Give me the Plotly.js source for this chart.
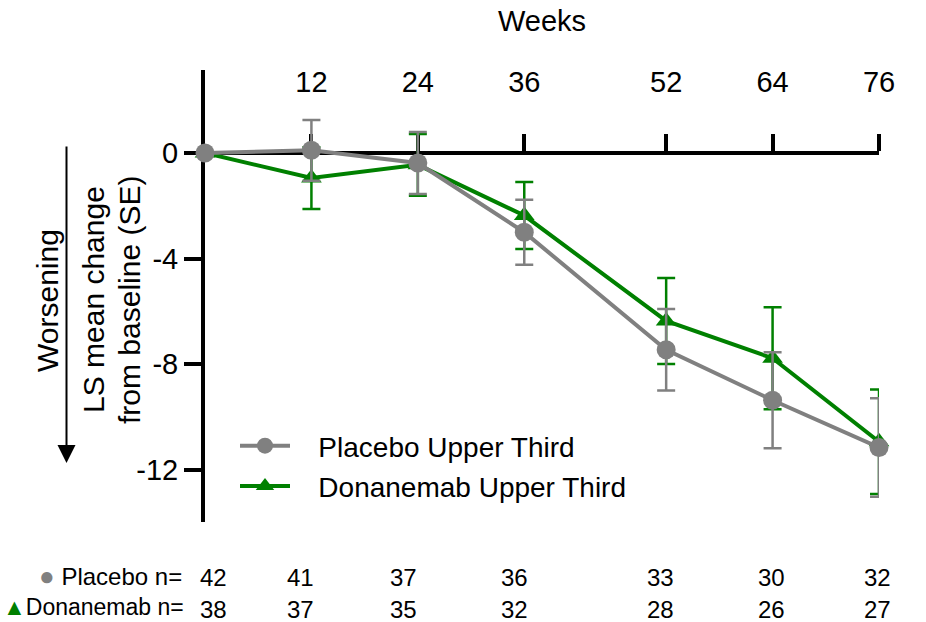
<!DOCTYPE html>
<html>
<head>
<meta charset="utf-8">
<script src="https://cdn.plot.ly/plotly-3.0.1.min.js"></script>
<style>html,body{margin:0;padding:0;background:#fff;}#chart{width:926px;height:622px;}</style>
</head>
<body>
<div id="chart"></div>
<script>
// ---- data ----
var weeks = [0, 12, 24, 36, 52, 64, 76];
var tickWeeks = [12, 24, 36, 52, 64, 76];
var placeboMean = [0, 0.1, -0.38, -3.0, -7.45, -9.36, -11.15];
var placeboSE = [0, 1.15, 1.17, 1.23, 1.54, 1.82, 1.86];
var donanemabMean = [0, -0.95, -0.45, -2.37, -6.36, -7.77, -10.93];
var donanemabSE = [0, 1.17, 1.17, 1.27, 1.63, 1.93, 1.98];
var placeboN = [42, 41, 37, 36, 33, 30, 32];
var donanemabN = [38, 37, 35, 32, 28, 26, 27];
var yTickVals = [0, -4, -8, -12];
var yTickText = ['0', '-4', '-8', '-12'];

// ---- style ----
var FONT = 'Liberation Sans, Arial, sans-serif';
var GREY = '#808080';
var GREEN = '#008000';
var yRange = [-13.97, 3.14];
var xAxisPos = (0 - yRange[0]) / (yRange[1] - yRange[0]);
var nShift = [8, -11, -14, -10, -6, -1, -2];
var PAD = '\u00a0\u00a0\u00a0';

var traces = [
  {
    x: weeks, y: donanemabMean, name: PAD + 'Donanemab Upper Third', type: 'scatter', mode: 'lines+markers',
    line: {color: GREEN, width: 4},
    marker: {symbol: 'triangle-up', size: 18, color: GREEN},
    error_y: {type: 'data', array: donanemabSE, visible: true, color: GREEN, thickness: 2.5, width: 9},
    cliponaxis: false, legendrank: 2, legendgroup: 'd'
  },
  {
    x: weeks, y: placeboMean, name: PAD + 'Placebo Upper Third', type: 'scatter', mode: 'lines+markers',
    line: {color: GREY, width: 4},
    marker: {symbol: 'circle', size: 19, color: GREY},
    error_y: {type: 'data', array: placeboSE, visible: true, color: GREY, thickness: 2.5, width: 9},
    cliponaxis: false, legendrank: 1, legendgroup: 'p'
  }
];

var annotations = [];
// y-axis titles
annotations.push({xref: 'paper', yref: 'paper', x: (93 - 205) / 674, y: (522 - 300) / 452,
  text: 'LS mean change', textangle: -90, showarrow: false, xanchor: 'center', yanchor: 'middle',
  font: {family: FONT, size: 30, color: '#000'}});
annotations.push({xref: 'paper', yref: 'paper', x: (129 - 205) / 674, y: (522 - 300) / 452,
  text: 'from baseline (SE)', textangle: -90, showarrow: false, xanchor: 'center', yanchor: 'middle',
  font: {family: FONT, size: 30, color: '#000'}});
annotations.push({xref: 'paper', yref: 'paper', x: (47 - 205) / 674, y: (522 - 301) / 452,
  text: 'Worsening', textangle: -90, showarrow: false, xanchor: 'center', yanchor: 'middle',
  font: {family: FONT, size: 30, color: '#000'}});
// worsening arrow
annotations.push({xref: 'paper', yref: 'paper', x: (66.5 - 205) / 674, y: (522 - 463) / 452,
  ax: 0, ay: -318, text: '', showarrow: true, arrowhead: 2, arrowsize: 1.8, arrowwidth: 2,
  arrowcolor: '#000', standoff: 0});
// n table labels
annotations.push({xref: 'paper', yref: 'paper', x: (184 - 205) / 674, y: (522 - 576) / 452,
  xanchor: 'right', yanchor: 'middle', showarrow: false,
  text: '<span style="color:' + GREY + ';font-size:26px">●</span> Placebo n=',
  font: {family: FONT, size: 24, color: '#000'}});
annotations.push({xref: 'paper', yref: 'paper', x: (185 - 205) / 674, y: (522 - 607) / 452,
  xanchor: 'right', yanchor: 'middle', showarrow: false, borderpad: 0,
  text: '<span style="color:' + GREEN + ';font-size:23px">▲</span>Donanemab n=',
  font: {family: FONT, size: 23, color: '#000'}});
for (var i = 0; i < weeks.length; i++) {
  annotations.push({xref: 'x', yref: 'paper', x: weeks[i], y: (522 - 577) / 452, xshift: nShift[i],
    xanchor: 'center', yanchor: 'middle', showarrow: false, text: String(placeboN[i]),
    font: {family: FONT, size: 24, color: '#000'}});
  annotations.push({xref: 'x', yref: 'paper', x: weeks[i], y: (522 - 609) / 452, xshift: nShift[i],
    xanchor: 'center', yanchor: 'middle', showarrow: false, text: String(donanemabN[i]),
    font: {family: FONT, size: 24, color: '#000'}});
}

var layout = {
  width: 926, height: 622,
  margin: {l: 205, r: 47, t: 70, b: 100, pad: 0},
  paper_bgcolor: '#fff', plot_bgcolor: '#fff',
  font: {family: FONT, size: 29, color: '#000'},
  showlegend: true,
  legend: {x: (235 - 205) / 674, y: (522 - 421) / 452, xanchor: 'left', yanchor: 'top',
    font: {family: FONT, size: 28, color: '#000'}, bgcolor: 'rgba(0,0,0,0)',
    traceorder: 'grouped', tracegroupgap: 1, itemwidth: 50},
  xaxis: {
    range: [0, 76], side: 'top', anchor: 'free', position: xAxisPos,
    showline: true, linecolor: '#000', linewidth: 4, layer: 'below traces',
    showgrid: false, zeroline: false,
    tickmode: 'array', tickvals: tickWeeks, ticktext: tickWeeks.map(String),
    ticks: 'outside', ticklen: 17, tickwidth: 4, tickcolor: '#000',
    ticklabelstandoff: 30,
    tickfont: {family: FONT, size: 29, color: '#000'},
    title: {text: 'Weeks', font: {family: FONT, size: 29, color: '#000'}, standoff: 25},
    automargin: false, fixedrange: true
  },
  yaxis: {
    range: yRange, showline: true, linecolor: '#000', linewidth: 4, layer: 'below traces',
    showgrid: false, zeroline: false,
    tickmode: 'array', tickvals: yTickVals, ticktext: yTickText,
    ticks: 'outside', ticklen: 17, tickwidth: 4, tickcolor: '#000',
    tickfont: {family: FONT, size: 29, color: '#000'},
    automargin: false, fixedrange: true
  },
  annotations: annotations
};

Plotly.newPlot('chart', traces, layout, {displayModeBar: false, staticPlot: true});
</script>
</body>
</html>
